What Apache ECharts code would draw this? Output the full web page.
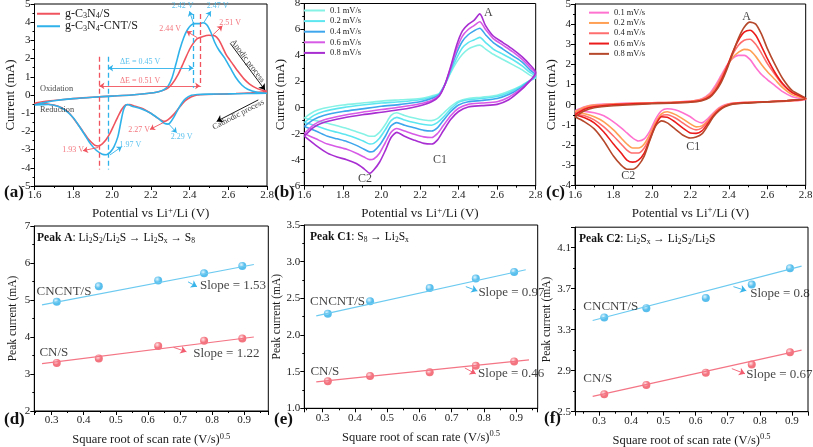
<!DOCTYPE html>
<html>
<head>
<meta charset="utf-8">
<script src="https://cdn.jsdelivr.net/npm/echarts@6/dist/echarts.min.js"></script>
<style>
  html, body { margin: 0; padding: 0; background: #fff; }
  #chart { width: 813px; height: 447px; }
</style>
</head>
<body>
<div id="chart"></div>
<script>
const FONT = 'Liberation Serif';
const RED = '#f0535d';
const BLUE = '#2fb2ea';
const RED_FIT = '#f47585';
const BLUE_FIT = '#6ccaf0';

// ---- panel (a): CV of the two cathodes, [potential, current] ----
const aCnCath = [[2.80,0.17],[2.72,0.12],[2.64,0.08],[2.56,0.05],[2.48,0.03],[2.44,0.0],[2.41,-0.1],[2.38,-0.3],[2.35,-0.65],[2.32,-1.05],[2.29,-1.35],[2.27,-1.45],[2.24,-1.3],[2.20,-1.0],[2.16,-0.75],[2.12,-0.62],[2.09,-0.52],[2.07,-0.55],[2.05,-0.8],[2.03,-1.2],[2.01,-1.65],[1.99,-2.1],[1.97,-2.45],[1.95,-2.68],[1.93,-2.8],[1.91,-2.75],[1.88,-2.45],[1.85,-2.0],[1.82,-1.55],[1.78,-1.0],[1.74,-0.7],[1.70,-0.55],[1.65,-0.48],[1.60,-0.45]];
const aCnAnod = [[1.60,-0.45],[1.65,-0.36],[1.70,-0.3],[1.80,-0.2],[1.90,-0.12],[2.00,-0.06],[2.10,0.0],[2.18,0.08],[2.24,0.18],[2.28,0.32],[2.31,0.6],[2.34,1.1],[2.37,1.8],[2.40,2.5],[2.42,2.85],[2.44,3.1],[2.47,3.22],[2.50,3.28],[2.53,3.25],[2.55,3.05],[2.57,2.65],[2.59,2.2],[2.62,1.75],[2.65,1.3],[2.68,0.9],[2.71,0.6],[2.75,0.35],[2.80,0.2]];
const aCntCath = [[2.80,0.1],[2.70,0.08],[2.60,0.06],[2.50,0.05],[2.44,0.03],[2.41,-0.02],[2.38,-0.2],[2.36,-0.45],[2.34,-0.8],[2.32,-1.2],[2.30,-1.52],[2.29,-1.6],[2.27,-1.55],[2.24,-1.3],[2.20,-1.0],[2.15,-0.75],[2.10,-0.6],[2.08,-0.52],[2.07,-0.58],[2.06,-0.8],[2.05,-1.25],[2.04,-1.8],[2.03,-2.3],[2.01,-2.85],[1.99,-3.15],[1.97,-3.28],[1.95,-3.25],[1.92,-3.05],[1.89,-2.7],[1.86,-2.2],[1.83,-1.7],[1.80,-1.25],[1.76,-0.85],[1.72,-0.62],[1.67,-0.52],[1.60,-0.55]];
const aCntAnod = [[1.60,-0.55],[1.65,-0.42],[1.70,-0.32],[1.80,-0.2],[1.90,-0.12],[2.00,-0.06],[2.10,0.0],[2.18,0.08],[2.24,0.18],[2.27,0.3],[2.29,0.5],[2.31,0.95],[2.33,1.7],[2.35,2.5],[2.37,3.15],[2.39,3.6],[2.41,3.85],[2.43,3.92],[2.45,3.92],[2.47,3.97],[2.49,3.85],[2.51,3.45],[2.53,2.9],[2.55,2.5],[2.58,2.05],[2.61,1.5],[2.64,0.95],[2.67,0.55],[2.70,0.32],[2.75,0.15],[2.80,0.1]];

// annotations of (a): [x, y, text]
const aRedNotes = [[2.30,3.62,'2.44 V'],[2.61,3.95,'2.51 V'],[1.80,-3.0,'1.93 V'],[2.14,-1.92,'2.27 V'],[2.145,0.77,'ΔE = 0.51 V']];
const aBlueNotes = [[2.364,4.92,'2.42 V'],[2.545,4.92,'2.47 V'],[2.095,-2.75,'1.97 V'],[2.36,-2.29,'2.29 V'],[2.145,1.83,'ΔE = 0.45 V']];
const aRedArrows = [[2.44,3.15,2.385,3.5],[2.52,3.3,2.57,3.8],[1.93,-2.88,1.85,-3.06],[2.268,-1.5,2.196,-1.89]];
const aBlueArrows = [[2.42,3.95,2.40,4.6],[2.475,4.0,2.51,4.6],[1.99,-3.29,2.05,-2.84],[2.29,-1.56,2.334,-2.07]];
const aRedDelta = [1.935, 2.455, 0.5];
const aBlueDelta = [1.98, 2.42, 1.48];
const aRedDashes = [[1.935,2.1,-4.1],[2.455,4.45,0.45]];
const aBlueDashes = [[1.98,2.1,-4.1],[2.42,4.45,0.4]];
const aProcessArrows = [[2.61,2.84,2.79,0.27],[2.755,-0.27,2.54,-1.45]];

// ---- panels (b) and (c): CV at several scan rates ----
const rateNames = ['0.1 mV/s','0.2 mV/s','0.4 mV/s','0.6 mV/s','0.8 mV/s'];
const bColors = ['#86f2e6','#5ee6f0','#3ea6ec','#d65ae6','#a82ed2'];
const cColors = ['#ff72cf','#ffa055','#ff6e6e','#ec1b1b','#b5472a'];

const bAnodX = [1.60,1.65,1.70,1.80,1.90,2.00,2.10,2.20,2.26,2.30,2.33,2.36,2.39,2.42,2.45,2.48,2.51,2.54,2.58,2.63,2.68,2.73,2.77,2.80];
const bCathX = [2.80,2.76,2.72,2.66,2.60,2.52,2.45,2.40,2.36,2.32,2.29,2.26,2.22,2.17,2.12,2.08,2.05,2.02,1.99,1.96,1.94,1.91,1.87,1.82,1.77,1.72,1.66,1.60];
const bAnod = [
  [-0.8,-0.3,-0.05,0.2,0.35,0.5,0.6,0.7,0.9,1.1,1.8,2.7,3.5,4.1,4.5,4.7,4.8,4.5,4.1,3.7,3.3,2.9,2.5,2.3],
  [-1.15,-0.6,-0.3,0.0,0.2,0.35,0.45,0.6,0.8,1.05,1.8,2.8,3.8,4.6,5.0,5.2,5.4,5.0,4.5,4.1,3.7,3.2,2.7,2.4],
  [-1.45,-0.9,-0.6,-0.3,-0.1,0.1,0.25,0.45,0.7,1.0,1.8,3.0,4.2,5.1,5.6,5.9,6.1,5.6,5.0,4.5,4.0,3.5,2.9,2.5],
  [-2.0,-1.3,-0.95,-0.6,-0.35,-0.15,0.05,0.3,0.55,0.95,1.8,3.1,4.5,5.5,6.0,6.3,6.6,6.0,5.3,4.8,4.3,3.7,3.1,2.6],
  [-2.2,-1.5,-1.15,-0.8,-0.55,-0.35,-0.15,0.15,0.45,0.9,1.8,3.2,4.8,5.9,6.4,6.7,7.2,6.3,5.5,5.0,4.5,3.9,3.3,2.7]
];
const bCath = [
  [2.3,2.0,1.65,1.25,0.95,0.8,0.7,0.5,0.1,-0.45,-0.85,-1.0,-0.95,-0.8,-0.6,-0.4,-0.6,-1.3,-1.9,-2.2,-2.2,-2.05,-1.85,-1.6,-1.4,-1.2,-1.0,-0.8],
  [2.4,2.0,1.6,1.15,0.85,0.7,0.6,0.4,-0.1,-0.75,-1.15,-1.35,-1.3,-1.15,-0.95,-0.75,-1.0,-1.7,-2.35,-2.75,-2.8,-2.6,-2.35,-2.1,-1.9,-1.7,-1.4,-1.15],
  [2.5,1.95,1.5,1.0,0.7,0.55,0.45,0.2,-0.3,-1.0,-1.55,-1.8,-1.75,-1.55,-1.35,-1.15,-1.4,-2.2,-2.9,-3.35,-3.4,-3.2,-2.9,-2.6,-2.4,-2.2,-1.8,-1.45],
  [2.6,1.9,1.4,0.8,0.45,0.35,0.25,-0.05,-0.6,-1.4,-2.0,-2.3,-2.25,-2.05,-1.8,-1.6,-1.9,-2.7,-3.5,-3.95,-4.0,-3.8,-3.5,-3.2,-3.0,-2.8,-2.4,-2.0],
  [2.7,1.9,1.3,0.6,0.25,0.15,0.05,-0.3,-0.9,-1.8,-2.5,-2.8,-2.75,-2.5,-2.2,-1.9,-2.3,-3.3,-4.2,-4.8,-5.05,-4.7,-4.3,-4.0,-3.8,-3.5,-2.9,-2.2]
];
const bNotes = [[2.554,7.25,'A'],[2.304,-3.98,'C1'],[1.915,-5.51,'C2']];

const cAnodX = [1.60,1.65,1.70,1.80,1.90,2.00,2.10,2.20,2.26,2.30,2.33,2.36,2.39,2.42,2.45,2.48,2.51,2.54,2.57,2.60,2.64,2.68,2.73,2.80];
const cCathX = [2.80,2.70,2.60,2.50,2.42,2.38,2.35,2.32,2.29,2.26,2.23,2.20,2.16,2.12,2.08,2.05,2.02,1.99,1.96,1.93,1.90,1.87,1.84,1.80,1.75,1.70,1.65,1.60];
const cAnod = [
  [-0.3,-0.1,0.0,0.05,0.08,0.1,0.12,0.18,0.3,0.55,0.95,1.45,1.95,2.3,2.45,2.45,2.25,1.85,1.5,1.25,0.95,0.65,0.4,0.25],
  [-0.35,-0.12,-0.02,0.04,0.07,0.1,0.12,0.17,0.27,0.5,0.85,1.35,1.9,2.35,2.6,2.75,2.7,2.4,2.0,1.65,1.25,0.85,0.5,0.27],
  [-0.45,-0.18,-0.06,0.02,0.05,0.08,0.1,0.15,0.25,0.45,0.8,1.3,1.9,2.5,2.95,3.2,3.25,3.0,2.55,2.05,1.5,1.0,0.6,0.3],
  [-0.5,-0.22,-0.1,0.0,0.04,0.07,0.1,0.14,0.22,0.4,0.7,1.2,1.85,2.6,3.2,3.6,3.7,3.45,2.9,2.3,1.6,1.05,0.6,0.3],
  [-0.6,-0.3,-0.15,-0.05,0.0,0.05,0.08,0.12,0.2,0.35,0.65,1.1,1.75,2.55,3.3,3.85,4.1,4.0,3.5,2.8,2.0,1.3,0.7,0.32]
];
const cCath = [
  [0.25,0.18,0.15,0.12,0.08,0.0,-0.15,-0.4,-0.7,-0.9,-0.8,-0.6,-0.4,-0.25,-0.2,-0.3,-0.7,-1.3,-1.7,-1.8,-1.65,-1.4,-1.15,-0.85,-0.55,-0.4,-0.33,-0.3],
  [0.27,0.18,0.15,0.12,0.07,-0.02,-0.18,-0.45,-0.8,-1.05,-1.1,-0.95,-0.7,-0.48,-0.35,-0.45,-0.85,-1.45,-1.95,-2.15,-2.15,-1.95,-1.65,-1.25,-0.85,-0.6,-0.45,-0.35],
  [0.3,0.2,0.15,0.11,0.06,-0.05,-0.22,-0.5,-0.85,-1.15,-1.25,-1.15,-0.9,-0.65,-0.5,-0.55,-0.95,-1.6,-2.15,-2.4,-2.4,-2.25,-1.95,-1.55,-1.1,-0.75,-0.55,-0.45],
  [0.3,0.2,0.15,0.1,0.05,-0.07,-0.25,-0.55,-0.95,-1.3,-1.42,-1.4,-1.15,-0.85,-0.62,-0.6,-1.0,-1.7,-2.4,-2.75,-2.85,-2.75,-2.4,-1.95,-1.35,-0.9,-0.65,-0.5],
  [0.32,0.2,0.14,0.08,0.03,-0.1,-0.3,-0.6,-1.05,-1.45,-1.6,-1.65,-1.5,-1.2,-0.9,-0.8,-1.05,-1.75,-2.55,-3.0,-3.2,-3.2,-3.0,-2.55,-1.8,-1.2,-0.85,-0.6]
];
const cNotes = [[2.493,4.37,'A'],[2.215,-2.08,'C1'],[1.877,-3.52,'C2']];

// ---- panels (d)(e)(f): peak current vs sqrt(scan rate) ----
const sqrtRate = [0.316, 0.447, 0.632, 0.775, 0.894];
const dCnt = [4.95, 5.37, 5.53, 5.72, 5.92];
const dCn = [3.30, 3.42, 3.76, 3.90, 3.96];
const eCnt = [2.29, 2.46, 2.64, 2.77, 2.86];
const eCn = [1.37, 1.44, 1.49, 1.58, 1.64];
const fCnt = [3.42, 3.51, 3.61, 3.74, 3.90];
const fCn = [2.67, 2.76, 2.88, 2.96, 3.08];
const dFitCnt = [[0.27,4.87],[0.93,5.96]], dFitCn = [[0.27,3.28],[0.93,4.00]];
const eFitCnt = [[0.28,2.26],[0.93,2.89]], eFitCn = [[0.28,1.36],[0.94,1.66]];
const fFitCnt = [[0.28,3.39],[0.93,3.92]], fFitCn = [[0.28,2.65],[0.93,3.10]];
const dNotes = [[0.253,5.22,'CNCNT/S'],[0.262,3.58,'CN/S'],[0.762,5.40,'Slope = 1.53'],[0.741,3.55,'Slope = 1.22']];
const eNotes = [[0.261,2.46,'CNCNT/S'],[0.262,1.50,'CN/S'],[0.783,2.58,'Slope = 0.97'],[0.782,1.47,'Slope = 0.46']];
const fNotes = [[0.251,3.53,'CNCNT/S'],[0.251,2.82,'CN/S'],[0.770,3.655,'Slope = 0.8'],[0.758,2.86,'Slope = 0.67']];
const dArrows = {blue: [[0.725,5.49,0.753,5.36]], red: [[0.68,3.72,0.72,3.60]]};
const eArrows = {blue: [[0.744,2.66,0.780,2.60]], red: [[0.741,1.55,0.775,1.47]]};
const fArrows = {blue: [[0.718,3.72,0.758,3.68]], red: [[0.713,2.92,0.754,2.87]]};

// ---------------------------------------------------------------
const subRich = (fs, lh) => ({
  s: { fontFamily: FONT, fontSize: fs * 0.68, verticalAlign: 'bottom', lineHeight: lh },
  sup: { fontFamily: FONT, fontSize: fs * 0.68, verticalAlign: 'top', lineHeight: lh },
  b: { fontFamily: FONT, fontSize: fs, fontWeight: 'bold', lineHeight: lh }
});

function xAxisCfg(gi, min, max, interval, fmt, name) {
  const ax = {
    gridIndex: gi, type: 'value', min, max,
    axisLine: { show: true, onZero: false, lineStyle: { color: '#000', width: 1 } },
    axisTick: { show: true, inside: false, length: 4, lineStyle: { color: '#000' } },
    minorTick: { show: true, splitNumber: 2, length: 2, lineStyle: { color: '#000' } },
    splitLine: { show: false },
    axisLabel: { fontFamily: FONT, fontSize: 11, color: '#1a1a1a', margin: 4,
      formatter: v => v.toFixed(1), showMinLabel: interval != null, showMaxLabel: interval != null },
    name, nameLocation: 'middle', nameGap: 20,
    nameTextStyle: { fontFamily: FONT, fontSize: 13, color: '#1a1a1a', lineHeight: 16, rich: subRich(13, 16) }
  };
  if (interval != null) ax.interval = interval; else ax.splitNumber = 7;
  return ax;
}
function yAxisCfg(gi, min, max, interval, fmt, name, nameFs, hideMax) {
  return {
    gridIndex: gi, type: 'value', min, max, interval,
    axisLine: { show: true, onZero: false, lineStyle: { color: '#000', width: 1 } },
    axisTick: { show: true, inside: false, length: 4, lineStyle: { color: '#000' } },
    minorTick: { show: true, splitNumber: 2, length: 2, lineStyle: { color: '#000' } },
    splitLine: { show: false },
    axisLabel: { fontFamily: FONT, fontSize: 11, color: '#1a1a1a', margin: 4, formatter: fmt,
      showMaxLabel: !hideMax },
    name, nameLocation: 'middle', nameGap: fmt === intFmt ? 15 : 20,
    nameTextStyle: { fontFamily: FONT, fontSize: nameFs, color: '#1a1a1a' }
  };
}
const intFmt = v => String(Math.round(v));
const oneFmt = v => v.toFixed(1);

function cvLine(gi, name, pts, color, width) {
  return {
    type: 'line', name, xAxisIndex: gi, yAxisIndex: gi, data: pts,
    symbol: 'none', smooth: 0.25, silent: true,
    lineStyle: { color, width }, itemStyle: { color }
  };
}
function zip(xs, ys) { return xs.map((x, i) => [x, ys[i]]); }

function noteSeries(gi, notes, color, fs, opts) {
  opts = opts || {};
  return {
    type: 'scatter', xAxisIndex: gi, yAxisIndex: gi, symbolSize: 0, silent: true, z: 5,
    data: notes.map(n => ({
      value: [n[0], n[1]],
      label: Object.assign({ formatter: n[2] }, n[3] || {})
    })),
    label: {
      show: true, position: 'inside', color, fontFamily: FONT, fontSize: fs,
      align: opts.align || 'center', verticalAlign: 'middle'
    },
    markLine: opts.lines ? {
      silent: true, animation: false, symbol: ['none', 'arrow'], symbolSize: opts.arrowSize || 6,
      label: { show: false },
      lineStyle: { color: opts.lineColor || color, width: 0.9, type: 'solid' },
      data: opts.lines
    } : undefined
  };
}
const arrowsToLines = arr => arr.map(a => [{ coord: [a[0], a[1]] }, { coord: [a[2], a[3]] }]);
const dashesToLines = arr => arr.map(a => [
  { coord: [a[0], a[1]], symbol: 'none', lineStyle: { type: [5, 3], width: 1.3 } },
  { coord: [a[0], a[2]], symbol: 'none' }
]);
const deltaToLine = d => [{ coord: [d[0], d[2]], symbol: 'arrow' }, { coord: [d[1], d[2]], symbol: 'arrow' }];

function ball(color, light) {
  return {
    type: 'radial', x: 0.38, y: 0.35, r: 0.7,
    colorStops: [{ offset: 0, color: light }, { offset: 0.55, color }, { offset: 1, color }]
  };
}
function peakSeries(gi, cnt, cn, fitCnt, fitCn, notes, arrows) {
  return [
    { type: 'line', xAxisIndex: gi, yAxisIndex: gi, data: fitCnt, symbol: 'none', silent: true,
      lineStyle: { color: BLUE_FIT, width: 1.2 } },
    { type: 'line', xAxisIndex: gi, yAxisIndex: gi, data: fitCn, symbol: 'none', silent: true,
      lineStyle: { color: RED_FIT, width: 1.2 } },
    { type: 'scatter', xAxisIndex: gi, yAxisIndex: gi, data: zip(sqrtRate, cnt), symbolSize: 8, silent: true,
      itemStyle: { color: ball('#2eaee8', '#d8f3ff') } },
    { type: 'scatter', xAxisIndex: gi, yAxisIndex: gi, data: zip(sqrtRate, cn), symbolSize: 8, silent: true,
      itemStyle: { color: ball('#f0505e', '#ffe0e4') } },
    noteSeries(gi, notes, '#111', 13, { align: 'left', lines: arrowsToLines(arrows.blue), lineColor: '#38b4ea' }),
    noteSeries(gi, [], '#111', 13, { lines: arrowsToLines(arrows.red), lineColor: '#f25d70' })
  ];
}

const series = [
  cvLine(0, 'g-C3N4/S', aCnCath.concat(aCnAnod), RED, 1.6),
  cvLine(0, 'g-C3N4-CNT/S', aCntCath.concat(aCntAnod), BLUE, 1.6),
  noteSeries(0, aRedNotes, RED, 8, {
    lines: arrowsToLines(aRedArrows).concat([deltaToLine(aRedDelta)]).concat(dashesToLines(aRedDashes)),
    arrowSize: 5
  }),
  noteSeries(0, aBlueNotes, BLUE, 8, {
    lines: arrowsToLines(aBlueArrows).concat([deltaToLine(aBlueDelta)]).concat(dashesToLines(aBlueDashes)),
    arrowSize: 5
  }),
  noteSeries(0, [
    [1.628, 0.33, 'Oxidation', { align: 'left' }],
    [1.628, -0.82, 'Reduction', { align: 'left' }],
    [2.70, 1.87, 'Anodic process', { rotate: -53 }],
    [2.652, -1.08, 'Cathodic process', { rotate: 27.5 }]
  ], '#111', 8.3, { lines: arrowsToLines(aProcessArrows), lineColor: '#000', arrowSize: 6 })
];
rateNames.forEach((r, i) => {
  series.push(cvLine(1, 'b|' + r, zip(bAnodX.concat(bCathX), bAnod[i].concat(bCath[i])), bColors[i], 1.6));
});
series.push(noteSeries(1, bNotes, '#111', 12));
rateNames.forEach((r, i) => {
  series.push(cvLine(2, 'c|' + r, zip(cAnodX.concat(cCathX), cAnod[i].concat(cCath[i])), cColors[i], 1.6));
});
series.push(noteSeries(2, cNotes, '#111', 12));
series.push(...peakSeries(3, dCnt, dCn, dFitCnt, dFitCn, dNotes, dArrows));
series.push(...peakSeries(4, eCnt, eCn, eFitCnt, eFitCn, eNotes, eArrows));
series.push(...peakSeries(5, fCnt, fCn, fFitCnt, fFitCn, fNotes, fArrows));

const gridBox = { show: true, borderColor: '#000', borderWidth: 1, backgroundColor: 'transparent',
  containLabel: false, outerBoundsMode: 'none' };
const grids = [
  { left: 34.5, top: 4, width: 232.5, height: 182 },
  { left: 304.3, top: 3.5, width: 231.4, height: 182.2 },
  { left: 575, top: 4, width: 230.7, height: 181.3 },
  { left: 34.3, top: 226, width: 234, height: 185 },
  { left: 304.3, top: 225, width: 233.4, height: 183.3 },
  { left: 575, top: 227.2, width: 233, height: 184.5 }
].map(g => Object.assign({}, gridBox, g));

const potName = 'Potential vs Li{sup|+}/Li (V)';
const rateAxisName = 'Square root of scan rate (V/s){sup|0.5}';

const legendText = { fontFamily: FONT, color: '#1a1a1a' };
const legendNames = { 'g-C3N4/S': 'g-C{s|3}N{s|4}/S', 'g-C3N4-CNT/S': 'g-C{s|3}N{s|4}-CNT/S' };

const panelLetter = (txt, x, y) => ({
  type: 'text', x, y, silent: true,
  style: { text: txt, fontFamily: FONT, fontSize: 17, fontWeight: 'bold', fill: '#111', verticalAlign: 'middle' }
});
const peakTitle = (txt, x, y) => ({
  type: 'text', x, y, silent: true,
  style: {
    text: txt, fontFamily: FONT, fontSize: 11.5, fill: '#111', lineHeight: 14, verticalAlign: 'middle',
    rich: {
      b: { fontFamily: FONT, fontSize: 11.5, fontWeight: 'bold', fill: '#111', lineHeight: 14 },
      s: { fontFamily: FONT, fontSize: 7.5, fill: '#111', verticalAlign: 'bottom', lineHeight: 14 }
    }
  }
});

const option = {
  animation: false,
  backgroundColor: '#fff',
  grid: grids,
  xAxis: [
    xAxisCfg(0, 1.6, 2.8, 0.2, oneFmt, potName),
    xAxisCfg(1, 1.6, 2.8, 0.2, oneFmt, potName),
    xAxisCfg(2, 1.6, 2.8, 0.2, oneFmt, potName),
    xAxisCfg(3, 0.246, 0.975, null, oneFmt, rateAxisName),
    xAxisCfg(4, 0.243, 0.967, null, oneFmt, rateAxisName),
    xAxisCfg(5, 0.225, 0.95, null, oneFmt, rateAxisName)
  ].map((ax, i) => {
    if (i >= 3) {
      ax.nameTextStyle = Object.assign({}, ax.nameTextStyle, { fontSize: 12.5, rich: subRich(12.5, 16) });
      ax.nameGap = 21;
    }
    return ax;
  }),
  yAxis: [
    yAxisCfg(0, -5, 5, 1, intFmt, 'Current (mA)', 13),
    yAxisCfg(1, -6, 8, 2, intFmt, 'Current (mA)', 13),
    yAxisCfg(2, -4, 5, 1, intFmt, 'Current (mA)', 13),
    yAxisCfg(3, 2, 7, 1, intFmt, 'Peak current (mA)', 11.5),
    yAxisCfg(4, 1, 3.5, 0.5, oneFmt, 'Peak current (mA)', 11.5),
    yAxisCfg(5, 2.5, 4.3, 0.4, oneFmt, 'Peak current (mA)', 11.5, true)
  ],
  legend: [
    {
      left: 37, top: 7.5, padding: 0, orient: 'vertical', icon: 'rect', itemWidth: 23, itemHeight: 2, itemGap: 0,
      selectedMode: false, data: ['g-C3N4/S', 'g-C3N4-CNT/S'],
      formatter: n => legendNames[n],
      textStyle: Object.assign({ fontSize: 12, lineHeight: 12.5, rich: subRich(12, 12.5) }, legendText)
    },
    {
      left: 304, top: 5.2, padding: 0, orient: 'vertical', icon: 'rect', itemWidth: 21, itemHeight: 2, itemGap: 0,
      selectedMode: false, data: rateNames.map(r => 'b|' + r),
      formatter: n => n.split('|')[1],
      textStyle: Object.assign({ fontSize: 8.5, lineHeight: 10.6 }, legendText)
    },
    {
      left: 589, top: 7.5, padding: 0, orient: 'vertical', icon: 'rect', itemWidth: 20, itemHeight: 2, itemGap: 0,
      selectedMode: false, data: rateNames.map(r => 'c|' + r),
      formatter: n => n.split('|')[1],
      textStyle: Object.assign({ fontSize: 8.5, lineHeight: 10.3 }, legendText)
    }
  ],
  graphic: [
    panelLetter('(a)', 4, 193),
    panelLetter('(b)', 274, 193),
    panelLetter('(c)', 546, 193),
    panelLetter('(d)', 4, 420),
    panelLetter('(e)', 274, 420),
    panelLetter('(f)', 544, 419),
    peakTitle('{b|Peak A}: Li{s|2}S{s|2}/Li{s|2}S → Li{s|2}S{s|x} → S{s|8}', 37, 238),
    peakTitle('{b|Peak C1}: S{s|8} → Li{s|2}S{s|x}', 310, 237),
    peakTitle('{b|Peak C2}: Li{s|2}S{s|x} → Li{s|2}S{s|2}/Li{s|2}S', 579, 239)
  ],
  series
};

const chart = echarts.init(document.getElementById('chart'));
chart.setOption(option);
</script>
</body>
</html>
